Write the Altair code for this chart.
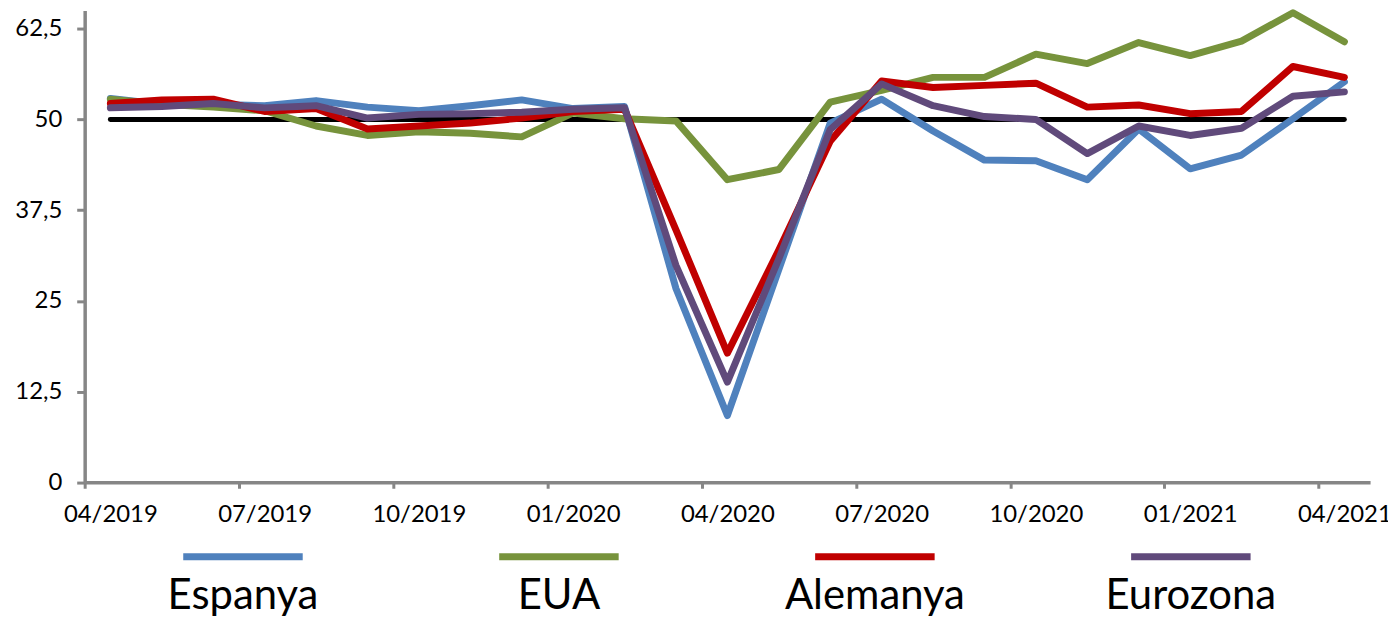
import altair as alt
import pandas as pd

months = ["04/2019", "05/2019", "06/2019", "07/2019", "08/2019", "09/2019", "10/2019",
          "11/2019", "12/2019", "01/2020", "02/2020", "03/2020", "04/2020", "05/2020",
          "06/2020", "07/2020", "08/2020", "09/2020", "10/2020", "11/2020", "12/2020",
          "01/2021", "02/2021", "03/2021", "04/2021"]

espanya = [52.9, 52.1, 52.1, 51.9, 52.6, 51.7, 51.2, 51.9, 52.7, 51.5, 51.8, 26.7, 9.2,
           29.3, 49.5, 52.8, 48.4, 44.4, 44.3, 41.7, 48.7, 43.2, 45.1, 50.1, 55.2]
eua = [52.8, 52.1, 51.7, 51.2, 49.1, 47.8, 48.3, 48.1, 47.6, 50.9, 50.1, 49.8, 41.7,
       43.1, 52.4, 54.0, 55.8, 55.8, 59.0, 57.7, 60.6, 58.8, 60.8, 64.7, 60.7]
alemanya = [52.2, 52.7, 52.8, 51.1, 51.5, 48.7, 49.1, 49.5, 50.2, 51.1, 51.4, 34.8, 17.8,
            32.0, 47.0, 55.3, 54.4, 54.7, 55.0, 51.7, 52.0, 50.8, 51.1, 57.3, 55.8]
eurozona = [51.6, 51.8, 52.2, 51.6, 51.9, 50.2, 50.7, 50.8, 51.0, 51.4, 51.6, 29.9, 13.8,
            30.8, 48.6, 54.9, 51.9, 50.4, 50.0, 45.3, 49.1, 47.8, 48.8, 53.2, 53.8]

series_names = ["Espanya", "EUA", "Alemanya", "Eurozona"]
series_values = [espanya, eua, alemanya, eurozona]
series_colors = ["#4F81BD", "#77933C", "#C00000", "#604A7B"]

tick_labels = months[::3]
reference_level = 50

AXIS_GRAY = "#868686"
FONT = "Lato"

label_js = "[" + ",".join("'%s'" % t for t in tick_labels) + "]"

x_scale = alt.Scale(domain=[0, len(months)], nice=False, zero=False)
y_scale = alt.Scale(domain=[0, 65], nice=False)

x_axis = alt.Axis(
    values=list(range(0, len(months), 3)),
    labelExpr=label_js + "[round(datum.value / 3)]",
    labelOffset=25.8,
    tickSize=6,
    labelPadding=14,
    title=None,
    grid=False,
    labelFlush=False,
    labelOverlap=False,
)
y_axis = alt.Axis(
    values=[0, 12.5, 25, 37.5, 50, 62.5],
    labelExpr="replace(format(datum.value, '~g'), '.', ',')",
    tickSize=8,
    labelPadding=15,
    title=None,
    grid=False,
)

ref = alt.Chart(pd.DataFrame({"v": [reference_level]})).mark_rule(
    color="black", strokeWidth=5, strokeCap="round"
).encode(
    y=alt.Y("v:Q", scale=y_scale, axis=y_axis),
    x=alt.datum(0.5, scale=x_scale, axis=x_axis),
    x2=alt.datum(len(months) - 0.5),
)

layers = [ref]
for name, vals, col in zip(series_names, series_values, series_colors):
    df = pd.DataFrame({"pos": [i + 0.5 for i in range(len(months))], "value": vals,
                       "month": months, "series": name})
    layers.append(
        alt.Chart(df).mark_line(color=col, strokeWidth=7, strokeCap="round",
                                strokeJoin="round").encode(
            x=alt.X("pos:Q", scale=x_scale, axis=x_axis),
            y=alt.Y("value:Q", scale=y_scale, axis=y_axis),
        )
    )

main = alt.layer(*layers)

leg_df = pd.DataFrame({"series": series_names})
leg_x = alt.X("series:N", sort=series_names,
              scale=alt.Scale(type="point", range=[159, 1111], padding=0),
              axis=None)
leg_color = alt.Color("series:N", sort=series_names,
                      scale=alt.Scale(domain=series_names, range=series_colors),
                      legend=None)
leg_swatch = alt.Chart(leg_df).mark_tick(orient="horizontal", size=120, thickness=7).encode(
    x=leg_x, y=alt.value(548.5), color=leg_color, opacity=alt.value(1)
)
leg_text = alt.Chart(leg_df).mark_text(
    font=FONT, fontSize=42, color="black", baseline="alphabetic", align="center"
).encode(x=leg_x, y=alt.value(600.5), text="series:N")
legend = alt.layer(leg_swatch, leg_text)

chart = alt.layer(main, legend).resolve_scale(
    x="independent", y="independent", color="independent"
).properties(
    width=1291, height=473.7,
    autosize=alt.AutoSizeParams(type="none"),
    padding={"left": 77, "top": 1.3, "right": 18, "bottom": 140},
).configure_axis(
    domainColor=AXIS_GRAY, domainWidth=3.5, tickColor=AXIS_GRAY, tickWidth=3,
    labelFont=FONT, labelFontSize=24, labelColor="black",
).configure_view(stroke=None)

chart.save("out.html", embed_options={"renderer": "svg", "actions": False})
